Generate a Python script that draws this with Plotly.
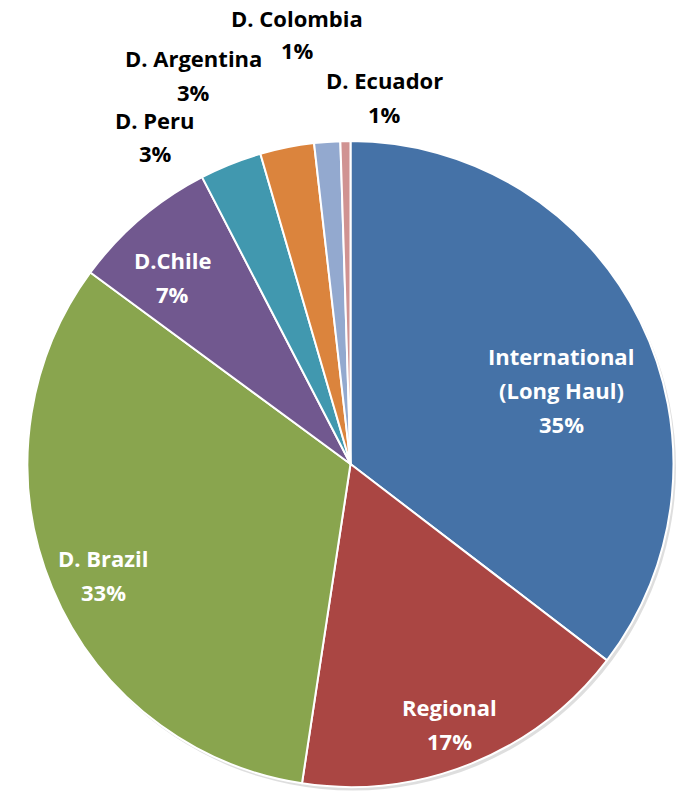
import plotly.graph_objects as go

labels = ["International (Long Haul)", "Regional", "D. Brazil", "D.Chile",
          "D. Peru", "D. Argentina", "D. Colombia", "D. Ecuador"]
values = [35.4, 17.0, 32.7, 7.3, 3.1, 2.7, 1.3, 0.5]
pct_text = ["35%", "17%", "33%", "7%", "3%", "3%", "1%", "1%"]
colors = ["#4572A7", "#AA4643", "#89A54E", "#71588F",
          "#4198AF", "#DB843D", "#93A9CF", "#D09392"]

W, H = 681, 792
cx, cy, r = 350.5, 464, 323

def dom(cx, cy, r):
    return dict(x=[(cx - r) / W, (cx + r) / W], y=[1 - (cy + r) / H, 1 - (cy - r) / H])

fig = go.Figure()
# soft drop shadow
fig.add_trace(go.Pie(values=[1], labels=["shadow"], domain=dom(cx + 2.5, cy + 3.5, r),
                     marker=dict(colors=["rgba(0,0,0,0.13)"], line=dict(width=0)),
                     textinfo="none", hoverinfo="skip", showlegend=False, sort=False))
fig.add_trace(go.Pie(labels=labels, values=values, sort=False, direction="clockwise",
                     rotation=0, domain=dom(cx, cy, r),
                     marker=dict(colors=colors, line=dict(color="white", width=2)),
                     textinfo="none", showlegend=False))

# label positions (pixel centres of each text line)
label_lines = [
    (["International", "(Long Haul)", pct_text[0]], 561, [356, 390, 424], "white"),
    ([labels[1], pct_text[1]], 449, [707, 741], "white"),
    ([labels[2], pct_text[2]], 103, [558, 592], "white"),
    ([labels[3], pct_text[3]], 173, [260, 294], "white"),
    ([labels[4], pct_text[4]], 155, [120, 153], "black"),
    ([labels[5], pct_text[5]], 193, [58, 92], "black"),
    ([labels[6], pct_text[6]], 297, [18, 50], "black"),
    ([labels[7], pct_text[7]], 385, [80, 114], "black"),
]
for lines, x, ys, col in label_lines:
    for t, y in zip(lines, ys):
        fig.add_annotation(text="<b>%s</b>" % t, x=x / W, y=1 - y / H, xref="paper", yref="paper",
                           showarrow=False, xanchor="center", yanchor="middle",
                           font=dict(family="Open Sans", size=22, color=col))

fig.update_layout(width=W, height=H, margin=dict(l=0, r=0, t=0, b=0),
                  paper_bgcolor="white", plot_bgcolor="white")
fig.write_html("out.html")
